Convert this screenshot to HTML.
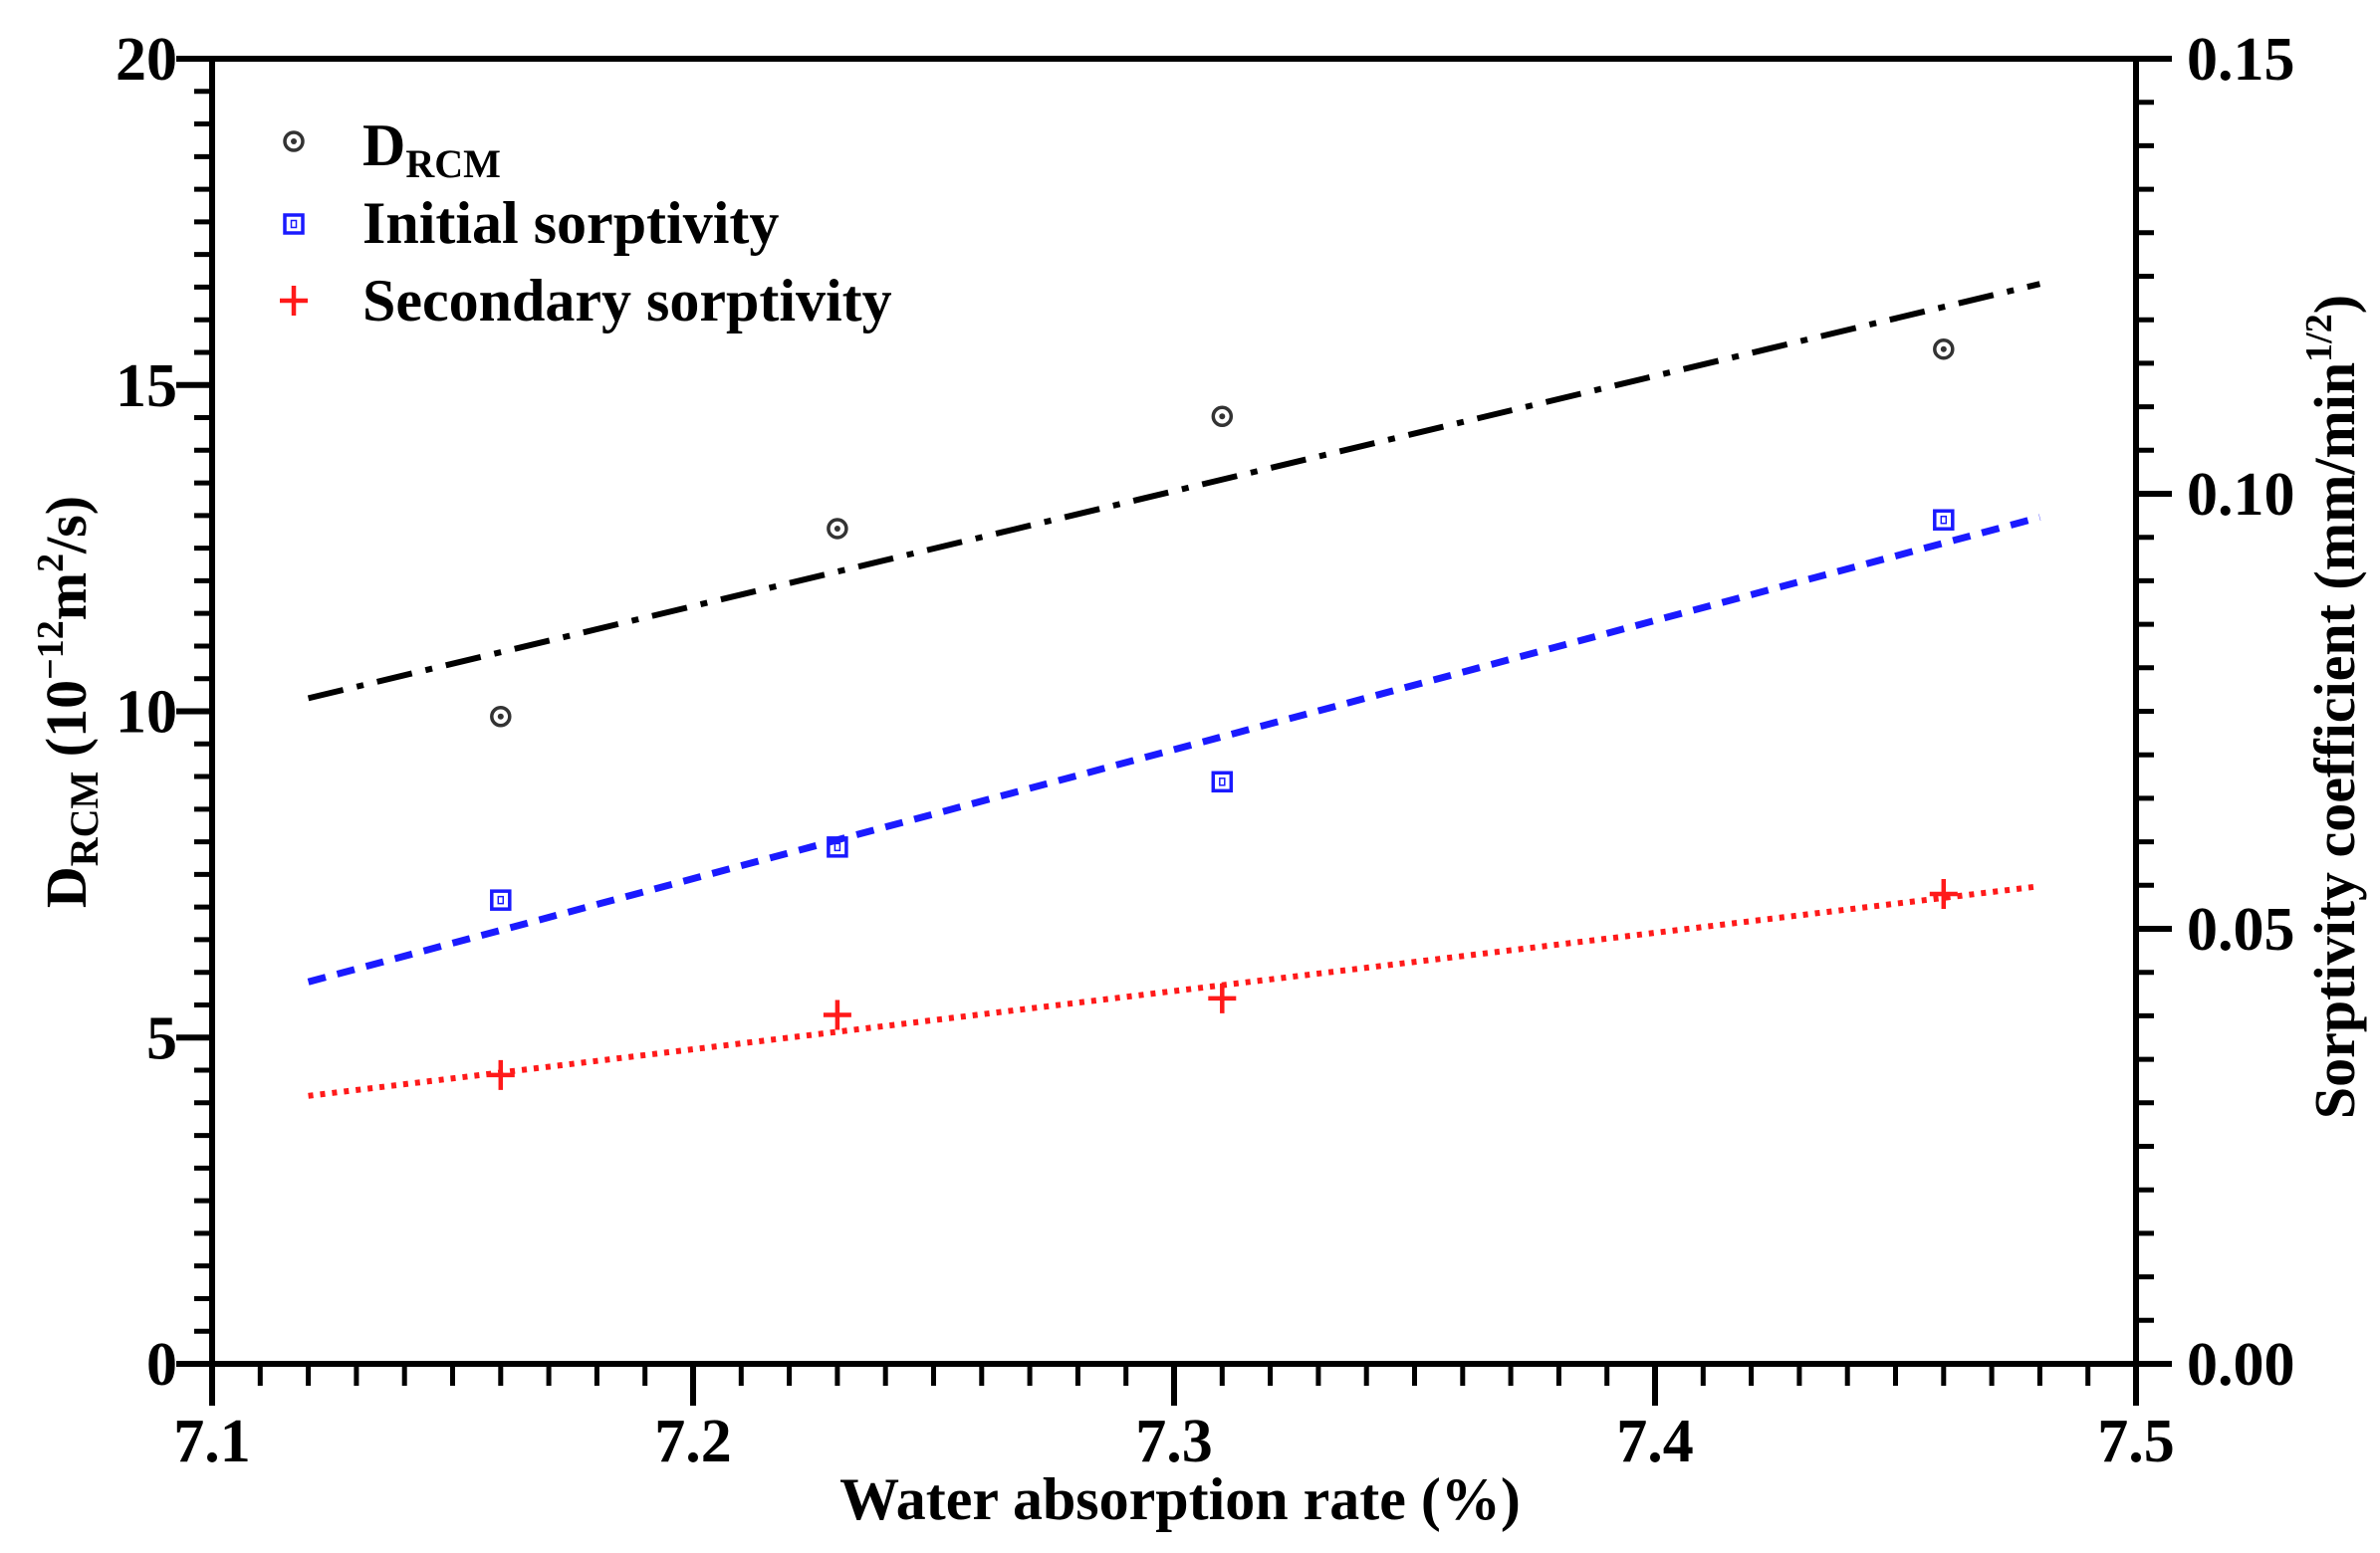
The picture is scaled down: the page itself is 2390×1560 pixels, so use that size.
<!DOCTYPE html>
<html><head><meta charset="utf-8"><style>
html,body{margin:0;padding:0;background:#fff;}
svg{display:block;font-family:"Liberation Serif",serif;font-weight:bold;}
</style></head><body>
<svg id="chart" width="2390" height="1560" viewBox="0 0 2390 1560" xmlns="http://www.w3.org/2000/svg">
<g id="plot"></g>
</svg>
<script>
const xCats = [7.16, 7.23, 7.31, 7.46];
const drcm = [9.92, 12.8, 14.52, 15.55];
const initialSorp = [0.0533, 0.0594, 0.0669, 0.0970];
const secondarySorp = [0.0332, 0.0401, 0.0420, 0.0540];
const fitX = [7.12, 7.48];
const drcmFit = [10.2, 16.55];
const initialFit = [0.0439, 0.0973];
const secondaryFit = [0.0308, 0.0549];
const xTicks = ["7.1","7.2","7.3","7.4","7.5"];
const yLeftTicks = ["0","5","10","15","20"];
const yRightTicks = ["0.00","0.05","0.10","0.15"];

const L=213,R=2145,T=59,B=1370;
const NS="http://www.w3.org/2000/svg";
const g=document.getElementById('plot');
function X(v){return L+(v-7.1)/0.4*(R-L);}
function YL(v){return B-v/20*(B-T);}
function YR(v){return B-v/0.15*(B-T);}
function el(t,a,p){const e=document.createElementNS(NS,t);for(const k in a)e.setAttribute(k,a[k]);(p||g).appendChild(e);return e;}

let f=el('rect',{x:L,y:T,width:R-L,height:B-T,fill:'none',stroke:'#000','stroke-width':6});



for(let i=0;i<=40;i++){const v=7.1+i*0.01;const major=i%10===0;
 const t=el('line',{x1:X(v),x2:X(v),y1:B,y2:B+(major?42:22),stroke:'#000','stroke-width':major?6:5});
 
 }
xTicks.forEach(s=>{const t=el('text',{x:X(parseFloat(s)),y:1468,'font-size':62,'text-anchor':'middle'});t.textContent=s;
 
 });
for(let i=0;i<=40;i++){const v=i*0.5;const major=i%10===0;
 const t=el('line',{x1:L,x2:L-(major?36:18),y1:YL(v),y2:YL(v),stroke:'#000','stroke-width':major?6:5});
 
 }
yLeftTicks.forEach(s=>{const t=el('text',{x:178,y:YL(parseFloat(s))+21,'font-size':62,'text-anchor':'end'});t.textContent=s;
 
 });
for(let i=0;i<=30;i++){const v=i*0.005;const major=i%10===0;
 const t=el('line',{x1:R,x2:R+(major?36:18),y1:YR(v),y2:YR(v),stroke:'#000','stroke-width':major?6:5});
 
 }
yRightTicks.forEach(s=>{const t=el('text',{x:2196,y:YR(parseFloat(s))+21,'font-size':62,'text-anchor':'start'});t.textContent=s;
 
 });

let l1=el('line',{x1:X(fitX[0]),y1:YL(drcmFit[0]),x2:X(fitX[1]),y2:YL(drcmFit[1]),stroke:'#000','stroke-width':6,'stroke-dasharray':'36 14 7 14'});


let l2=el('line',{x1:X(fitX[0]),y1:YR(initialFit[0]),x2:X(fitX[1]),y2:YR(initialFit[1]),stroke:'#1a1aff','stroke-width':7,'stroke-dasharray':'18 12'});


let l3=el('line',{x1:X(fitX[0]),y1:YR(secondaryFit[0]),x2:X(fitX[1]),y2:YR(secondaryFit[1]),stroke:'#ff1a1a','stroke-width':6,'stroke-dasharray':'5 7'});



function circ(cx,cy){const a=el('circle',{cx:cx,cy:cy,r:9,fill:'none',stroke:'#333','stroke-width':3.5});
 
 
 el('circle',{cx:cx,cy:cy,r:3,fill:'#333'});}
function sq(cx,cy){const a=el('rect',{x:cx-9,y:cy-9,width:18,height:18,fill:'none',stroke:'#1a1aff','stroke-width':3.5});
 
 
 el('rect',{x:cx-2.5,y:cy-3.5,width:5,height:7,fill:'none',stroke:'#1a1aff','stroke-width':1.5});}
function plus(cx,cy,nm){const a=el('path',{d:`M${cx-14} ${cy}H${cx+14}M${cx} ${cy-15}V${cy+15}`,stroke:'#ff1a1a','stroke-width':4.5});
 
 }
xCats.forEach((x,i)=>{circ(X(x),YL(drcm[i]));sq(X(x),YR(initialSorp[i]));plus(X(x),YR(secondarySorp[i]),'secondary-sorptivity-point');});

circ(295,142);sq(295,225);plus(295,302,'legend-secondary-marker');
let t1=el('text',{x:364,y:166,'font-size':60});t1.innerHTML='D<tspan font-size="40" dy="12">RCM</tspan>';


let t2=el('text',{x:364,y:244,'font-size':60});t2.textContent='Initial sorptivity';


let t3=el('text',{x:364,y:322,'font-size':60});t3.textContent='Secondary sorptivity';



let xt=el('text',{x:1185,y:1526,'font-size':60,'text-anchor':'middle'});xt.textContent='Water absorption rate (%)';


let yt=el('text',{x:0,y:0,'font-size':58,'text-anchor':'middle',transform:'translate(86,705) rotate(-90)'});
yt.innerHTML='D<tspan font-size="40" dy="12">RCM</tspan><tspan dy="-12"> (10</tspan><tspan font-size="38" dy="-23">−12</tspan><tspan dy="23">m</tspan><tspan font-size="38" dy="-23">2</tspan><tspan dy="23">/s)</tspan>';


let yr=el('text',{x:0,y:0,'font-size':58,'text-anchor':'middle',transform:'translate(2364,710) rotate(-90)'});
yr.innerHTML='Sorptivity coefficient (mm/min<tspan font-size="38" dy="-23">1/2</tspan><tspan dy="23">)</tspan>';


</script>
</body></html>
